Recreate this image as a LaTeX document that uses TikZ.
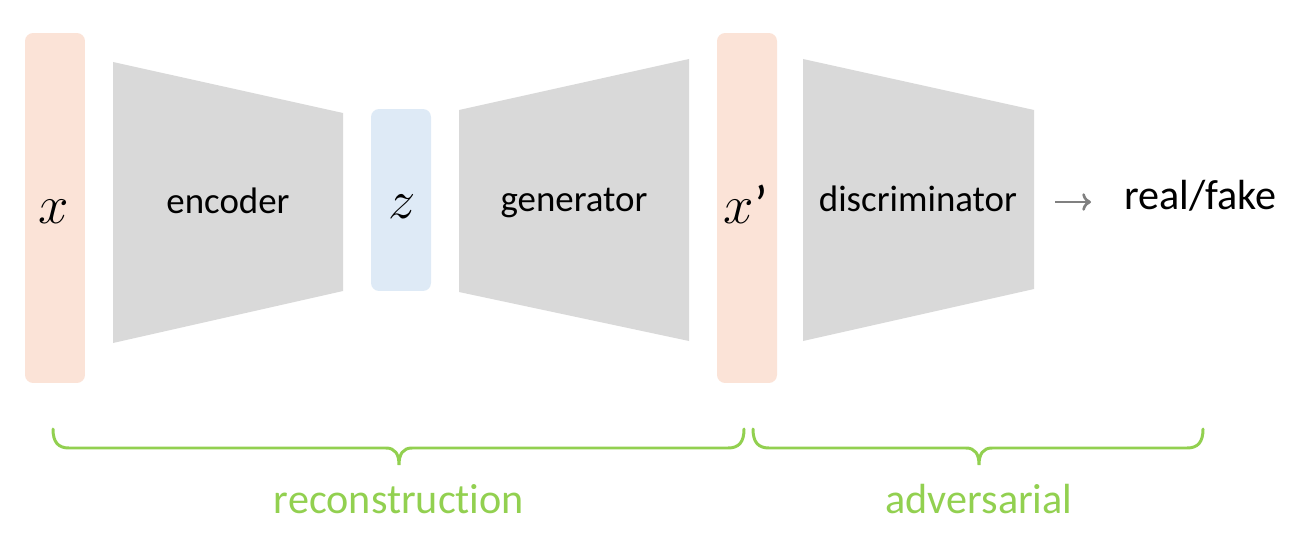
\documentclass[tikz,border=0pt]{standalone}
\usepackage{fontspec}
\setmainfont{Carlito}[Ligatures={NoCommon, NoRequired, NoContextual}]
\usetikzlibrary{calc,arrows.meta}

\definecolor{inputpink}{HTML}{FBE3D7}
\definecolor{latentblue}{HTML}{DEEAF6}
\definecolor{netgray}{HTML}{D9D9D9}
\definecolor{bracegreen}{HTML}{92D050}
\definecolor{arrowgray}{HTML}{808080}

\newcommand{\bigmath}[1]{\scalebox{1.25}{#1}}

\begin{document}
\begin{tikzpicture}[x=0.02cm, y=-0.02cm,
		varbox/.style={rounded corners=0.16cm, minimum width=1.2cm, inner sep=0pt},
		netlabel/.style={font=\fontsize{21}{25}\selectfont, anchor=base, inner sep=0pt},
		mathlabel/.style={font=\fontsize{24.88}{30}\selectfont, anchor=base, inner sep=0pt},
		grouplabel/.style={font=\fontsize{24}{28}\selectfont, text=bracegreen, anchor=base, inner sep=0pt},
		curlybrace/.style={draw=bracegreen, line width=1.7pt, line cap=round}]

		\useasboundingbox (0,0) rectangle (1314,554);

		\pgfmathsetmacro{\braceline}{448}
		\pgfmathsetmacro{\bracetop}{429}
		\pgfmathsetmacro{\bracetip}{465}

		% draw input, latent and output boxes
		\node[varbox, fill=inputpink, minimum height=7cm] (inbox) at (55, 208) {};
		\node[varbox, fill=latentblue, minimum height=3.64cm] (zbox) at (401, 200) {};
		\node[varbox, fill=inputpink, minimum height=7cm] (outbox) at (747, 208) {};

		\node[mathlabel] (xlabel) at (54, 223) {\bigmath{$x$}};
		\node[mathlabel] (zlabel) at (402, 218) {\bigmath{$z$}};
		\node[mathlabel] (xprime) at (746, 223) {\bigmath{$x$’}};

		% draw networks
		\fill[netgray] (113, 62) -- (343, 113) -- (343, 291) -- (113, 343) -- cycle; % encoder
		\fill[netgray] (459, 110) -- (689, 59) -- (689, 341) -- (459, 292) -- cycle; % generator
		\fill[netgray] (803, 59) -- (1034, 110) -- (1034, 289) -- (803, 341) -- cycle; % discriminator

		\node[netlabel] (enc) at (228, 213) {encoder};
		\node[netlabel] (gen) at (574, 211) {generator};
		\node[netlabel] (disc) at (918, 211) {discriminator};

		% draw output
		\node[font=\fontsize{24}{28}\selectfont, anchor=base west, inner sep=0pt] (realfake) at (1124, 209) {real/fake};
		\coordinate (arrowstart) at (1055, 202);
		\draw[arrowgray, line width=1.5pt, -{To[length=5pt, width=10pt]}] (arrowstart) -- ($(arrowstart -| realfake.west) + (-33, 0)$);

		% draw braces
		\foreach \bl/\br/\bt in {53/744/399, 753/1203/979}
		{
			\draw[curlybrace]
				(\bl, \bracetop) .. controls (\bl, \braceline - 6) and (\bl + 5, \braceline) .. (\bl + 16, \braceline) --
				(\bt - 13, \braceline) .. controls (\bt - 4, \braceline) and (\bt, \braceline + 6) .. (\bt, \bracetip) 
				.. controls (\bt, \braceline + 6) and (\bt + 4, \braceline) .. (\bt + 13, \braceline) --
				(\br - 16, \braceline) .. controls (\br - 5, \braceline) and (\br, \braceline - 6) .. (\br, \bracetop);
		}

		\node[grouplabel] (recon) at (399, 513) {reconstruction};
		\node[grouplabel] (adv) at (979, 513) {adversarial};

	\end{tikzpicture}
\end{document}
